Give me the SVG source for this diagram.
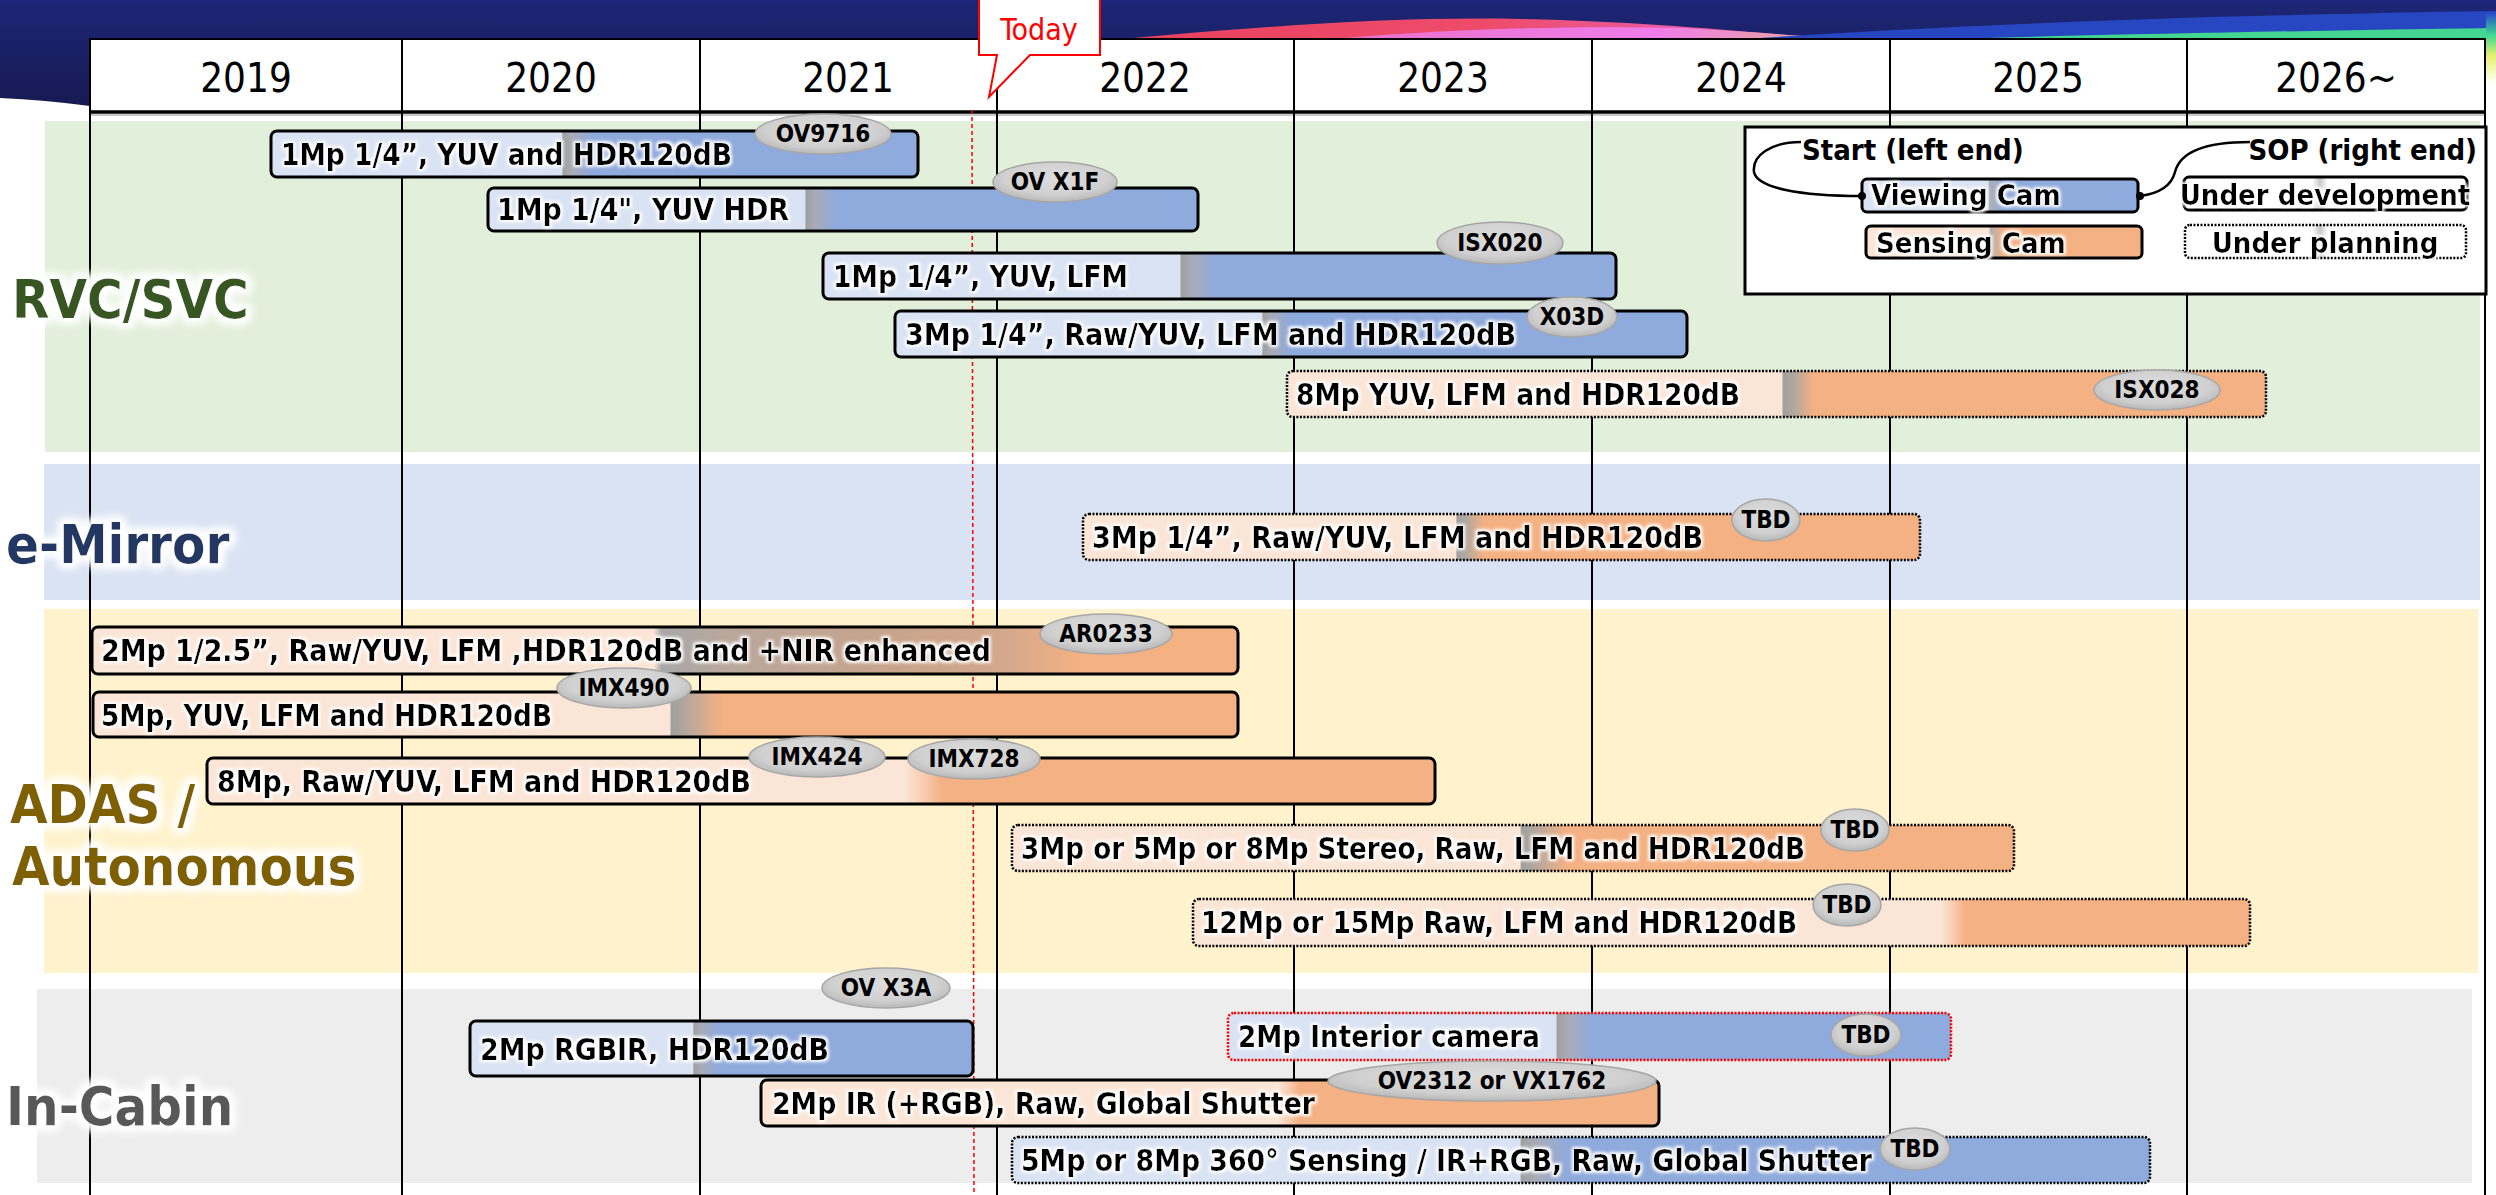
<svg xmlns="http://www.w3.org/2000/svg" width="2496" height="1195" viewBox="0 0 2496 1195">
<style>
.f{font-family:"DejaVu Sans Condensed","DejaVu Sans",sans-serif;font-stretch:condensed}
.yr{font-size:40px;text-anchor:middle;fill:#000}
.bt{font-size:30px;font-weight:bold;fill:#000;filter:url(#glow)}
.tg ellipse{fill:url(#eg);stroke:#A6A6A6;stroke-width:1.5}
.tg text{font-size:24px;font-weight:bold;text-anchor:middle;fill:#000}
.cat{font-size:54px;font-weight:bold;filter:url(#glow2)}
.lg{font-size:29px;font-weight:bold;fill:#000}
.bs{stroke:#000;stroke-width:3}
.bd{stroke:#000;stroke-width:2.5;stroke-dasharray:2 1.5}
.br{stroke:#F00;stroke-width:2.5;stroke-dasharray:2 1.5}
.grid{stroke:#000;stroke-width:2}
.con{fill:none;stroke:#000;stroke-width:2.5}
</style>
<defs>
<filter id="glow" x="-5%" y="-40%" width="110%" height="180%">
<feMorphology in="SourceAlpha" operator="dilate" radius="2" result="d"/>
<feGaussianBlur in="d" stdDeviation="1.5" result="b"/>
<feFlood flood-color="#fff"/>
<feComposite in2="b" operator="in" result="w"/>
<feMerge><feMergeNode in="w"/><feMergeNode in="SourceGraphic"/></feMerge>
</filter>
<filter id="glow2" x="-10%" y="-40%" width="120%" height="180%">
<feMorphology in="SourceAlpha" operator="dilate" radius="4" result="d"/>
<feGaussianBlur in="d" stdDeviation="5" result="b"/>
<feFlood flood-color="#fff"/>
<feComposite in2="b" operator="in" result="w"/>
<feMerge><feMergeNode in="w"/><feMergeNode in="w"/><feMergeNode in="SourceGraphic"/></feMerge>
</filter>
<radialGradient id="eg" cx="50%" cy="40%" r="60%">
<stop offset="0" stop-color="#DDDDDD"/><stop offset="0.7" stop-color="#D0D0D0"/><stop offset="1" stop-color="#B8B8B8"/>
</radialGradient>
<linearGradient id="navy" x1="0" y1="0" x2="0" y2="1">
<stop offset="0" stop-color="#1D2677"/><stop offset="1" stop-color="#171A52"/>
</linearGradient>
<linearGradient id="wave1" x1="0" y1="0" x2="1" y2="0">
<stop offset="0" stop-color="#E8405E"/><stop offset="0.5" stop-color="#EE4B6A"/><stop offset="1" stop-color="#E86BD8"/>
</linearGradient>
<linearGradient id="wave2" x1="0" y1="0" x2="1" y2="0">
<stop offset="0" stop-color="#E870C8"/><stop offset="0.6" stop-color="#F07DEA"/><stop offset="1" stop-color="#E0C070"/>
</linearGradient>
<linearGradient id="edge" x1="0" y1="0" x2="0" y2="1">
<stop offset="0" stop-color="#2A50C8"/><stop offset="0.3" stop-color="#3FD890"/><stop offset="0.6" stop-color="#E8F070"/><stop offset="1" stop-color="#FFFFFF"/>
</linearGradient>
<linearGradient id="gb1" gradientUnits="userSpaceOnUse" x1="562" x2="592"><stop offset="0" stop-color="#DAE3F3"/><stop offset="0.03" stop-color="#A0A0A0"/><stop offset="0.35" stop-color="#A8ACB8"/><stop offset="1" stop-color="#8FAADC"/></linearGradient>
<linearGradient id="gb2" gradientUnits="userSpaceOnUse" x1="805" x2="835"><stop offset="0" stop-color="#DAE3F3"/><stop offset="0.03" stop-color="#A0A0A0"/><stop offset="0.35" stop-color="#A8ACB8"/><stop offset="1" stop-color="#8FAADC"/></linearGradient>
<linearGradient id="gb3" gradientUnits="userSpaceOnUse" x1="1180" x2="1215"><stop offset="0" stop-color="#DAE3F3"/><stop offset="0.03" stop-color="#A0A0A0"/><stop offset="0.35" stop-color="#A8ACB8"/><stop offset="1" stop-color="#8FAADC"/></linearGradient>
<linearGradient id="gb4" gradientUnits="userSpaceOnUse" x1="1262" x2="1290"><stop offset="0" stop-color="#DAE3F3"/><stop offset="0.03" stop-color="#A0A0A0"/><stop offset="0.35" stop-color="#A8ACB8"/><stop offset="1" stop-color="#8FAADC"/></linearGradient>
<linearGradient id="go5" gradientUnits="userSpaceOnUse" x1="1782" x2="1814"><stop offset="0" stop-color="#FBE5D6"/><stop offset="0.03" stop-color="#A0A0A0"/><stop offset="0.35" stop-color="#B0A8A0"/><stop offset="1" stop-color="#F4B183"/></linearGradient>
<linearGradient id="go6" gradientUnits="userSpaceOnUse" x1="1456" x2="1484"><stop offset="0" stop-color="#FBE5D6"/><stop offset="0.03" stop-color="#A0A0A0"/><stop offset="0.35" stop-color="#B0A8A0"/><stop offset="1" stop-color="#F4B183"/></linearGradient>
<linearGradient id="go7" gradientUnits="userSpaceOnUse" x1="92" x2="1238"><stop offset="0" stop-color="#FBE5D6"/><stop offset="0.49" stop-color="#FBE5D6"/><stop offset="0.497" stop-color="#A8A8A8"/><stop offset="0.55" stop-color="#B8A79C"/><stop offset="0.70" stop-color="#C8A48C"/><stop offset="0.80" stop-color="#D4A88C"/><stop offset="0.86" stop-color="#F4B183"/><stop offset="1" stop-color="#F4B183"/></linearGradient>
<linearGradient id="go8" gradientUnits="userSpaceOnUse" x1="670" x2="722"><stop offset="0" stop-color="#FBE5D6"/><stop offset="0.02" stop-color="#A0A0A0"/><stop offset="0.35" stop-color="#B8A89C"/><stop offset="1" stop-color="#F4B183"/></linearGradient>
<linearGradient id="go9" gradientUnits="userSpaceOnUse" x1="905" x2="942"><stop offset="0" stop-color="#FBE5D6"/><stop offset="0.5" stop-color="#F8CDB0"/><stop offset="1" stop-color="#F4B183"/></linearGradient>
<linearGradient id="go10" gradientUnits="userSpaceOnUse" x1="1520" x2="1568"><stop offset="0" stop-color="#FBE5D6"/><stop offset="0.03" stop-color="#A0A0A0"/><stop offset="0.35" stop-color="#B8A89C"/><stop offset="1" stop-color="#F4B183"/></linearGradient>
<linearGradient id="go11" gradientUnits="userSpaceOnUse" x1="1941" x2="1965"><stop offset="0" stop-color="#FBE5D6"/><stop offset="0.5" stop-color="#F8CDB0"/><stop offset="1" stop-color="#F4B183"/></linearGradient>
<linearGradient id="gb13" gradientUnits="userSpaceOnUse" x1="693" x2="718"><stop offset="0" stop-color="#DAE3F3"/><stop offset="0.03" stop-color="#A0A0A0"/><stop offset="0.35" stop-color="#A8ACB8"/><stop offset="1" stop-color="#8FAADC"/></linearGradient>
<linearGradient id="gb14" gradientUnits="userSpaceOnUse" x1="1556" x2="1592"><stop offset="0" stop-color="#DAE3F3"/><stop offset="0.03" stop-color="#A0A0A0"/><stop offset="0.35" stop-color="#A8ACB8"/><stop offset="1" stop-color="#8FAADC"/></linearGradient>
<linearGradient id="go15" gradientUnits="userSpaceOnUse" x1="1278" x2="1300"><stop offset="0" stop-color="#FBE5D6"/><stop offset="0.5" stop-color="#F8CDB0"/><stop offset="1" stop-color="#F4B183"/></linearGradient>
<linearGradient id="gb16" gradientUnits="userSpaceOnUse" x1="1520" x2="1568"><stop offset="0" stop-color="#DAE3F3"/><stop offset="0.03" stop-color="#A0A0A0"/><stop offset="0.35" stop-color="#A8ACB8"/><stop offset="1" stop-color="#8FAADC"/></linearGradient>
<linearGradient id="glv" gradientUnits="userSpaceOnUse" x1="1988" x2="2002"><stop offset="0" stop-color="#DAE3F3"/><stop offset="0.1" stop-color="#B0B0B0"/><stop offset="1" stop-color="#8FAADC"/></linearGradient>
<linearGradient id="gls" gradientUnits="userSpaceOnUse" x1="1989" x2="2003"><stop offset="0" stop-color="#FBE5D6"/><stop offset="0.1" stop-color="#B0B0B0"/><stop offset="1" stop-color="#F4B183"/></linearGradient>
<linearGradient id="glw" gradientUnits="userSpaceOnUse" x1="2312" x2="2328"><stop offset="0" stop-color="#FFFFFF"/><stop offset="0.5" stop-color="#C8C8C8"/><stop offset="1" stop-color="#FFFFFF"/></linearGradient>
</defs>

<rect width="2496" height="1195" fill="#FFFFFF"/>

<g id="banner">
<path d="M0,0 H2496 V42 H90 V106 Q45,100 0,98 Z" fill="url(#navy)"/>
<path d="M1090,42 C1220,30 1380,16 1520,19 C1660,22 1760,34 1880,42 Z" fill="url(#wave1)"/>
<path d="M1300,42 C1420,30 1560,25 1680,28 C1760,32 1820,38 1900,42 Z" fill="url(#wave2)"/>
<path d="M1700,42 C1900,28 2150,16 2496,11 V42 Z" fill="#2646C2"/>
<path d="M1850,42 C2100,34 2300,31 2496,28 V42 Z" fill="#42D690"/>
<rect x="2486" y="14" width="10" height="70" fill="url(#edge)"/>
</g>

<g id="bands">
<rect x="45" y="121" width="2435" height="331" fill="#E2EFDA"/>
<rect x="44" y="464" width="2436" height="136" fill="#DAE3F3"/>
<rect x="44" y="609" width="2434" height="364" fill="#FFF2CC"/>
<rect x="37" y="989" width="2435" height="194" fill="#EDEDED"/>
</g>

<g id="table">
<rect x="90" y="39" width="2395" height="73" fill="#FFFFFF"/>
<line class="grid" x1="90" y1="39" x2="2485" y2="39" stroke-width="3"/>
<line x1="90" y1="112" x2="2485" y2="112" stroke="#000" stroke-width="3.5"/>
<line x1="90" y1="115" x2="2485" y2="115" stroke="#C8C8C8" stroke-width="2"/>
<line class="grid" x1="90" y1="38" x2="90" y2="1195"/>
<line class="grid" x1="402" y1="38" x2="402" y2="1195"/>
<line class="grid" x1="700" y1="38" x2="700" y2="1195"/>
<line class="grid" x1="997" y1="38" x2="997" y2="1195"/>
<line class="grid" x1="1294" y1="38" x2="1294" y2="1195"/>
<line class="grid" x1="1592" y1="38" x2="1592" y2="1195"/>
<line class="grid" x1="1890" y1="38" x2="1890" y2="1195"/>
<line class="grid" x1="2187" y1="38" x2="2187" y2="1195"/>
<line class="grid" x1="2485" y1="38" x2="2485" y2="1195" stroke-width="2.5"/>
<g class="f yr">
<text x="246" y="92">2019</text>
<text x="551" y="92">2020</text>
<text x="848" y="92">2021</text>
<text x="1145" y="92">2022</text>
<text x="1443" y="92">2023</text>
<text x="1741" y="92">2024</text>
<text x="2038" y="92">2025</text>
<text x="2336" y="92">2026~</text>
</g>
</g>

<g id="categories" class="f cat">
<text x="12" y="318" fill="#375623">RVC/SVC</text>
<text x="6" y="563" fill="#203864">e-Mirror</text>
<text x="10" y="823" fill="#7F6000">ADAS /</text>
<text x="12" y="885" fill="#7F6000">Autonomous</text>
<text x="6" y="1125" fill="#595959">In-Cabin</text>
</g>

<g id="today">
<line x1="972" y1="110" x2="974" y2="1195" stroke="#FF0000" stroke-width="1.5" stroke-dasharray="4 3"/>
<path d="M979,-2 H1100 V55 H1030 L989,97 L997,55 H979 Z" fill="#FFFFFF" stroke="#FF0000" stroke-width="2"/>
<text class="f" x="1039" y="40" font-size="30" text-anchor="middle" fill="#FF0000">Today</text>
</g>

<g id="nodes">
<g id="bar-rvc-1">
<rect x="271" y="131" width="647" height="46" rx="6" fill="url(#gb1)" class="bs"/>
<text class="f bt" x="281" y="165" textLength="451" lengthAdjust="spacingAndGlyphs">1Mp 1/4”, YUV and HDR120dB</text>
<g class="tg f"><ellipse cx="823" cy="134" rx="68" ry="20"/><text x="823" y="142">OV9716</text></g>
</g>
<g id="bar-rvc-2">
<rect x="488" y="188" width="710" height="43" rx="6" fill="url(#gb2)" class="bs"/>
<text class="f bt" x="497" y="220" textLength="292" lengthAdjust="spacingAndGlyphs">1Mp 1/4", YUV HDR</text>
<g class="tg f"><ellipse cx="1055" cy="182" rx="62" ry="20"/><text x="1055" y="190">OV X1F</text></g>
</g>
<g id="bar-rvc-3">
<rect x="823" y="253" width="793" height="46" rx="6" fill="url(#gb3)" class="bs"/>
<text class="f bt" x="833" y="287" textLength="295" lengthAdjust="spacingAndGlyphs">1Mp 1/4”, YUV, LFM</text>
<g class="tg f"><ellipse cx="1500" cy="243" rx="63" ry="21"/><text x="1500" y="251">ISX020</text></g>
</g>
<g id="bar-rvc-4">
<rect x="895" y="311" width="792" height="46" rx="6" fill="url(#gb4)" class="bs"/>
<text class="f bt" x="905" y="345" textLength="611" lengthAdjust="spacingAndGlyphs">3Mp 1/4”, Raw/YUV, LFM and HDR120dB</text>
<g class="tg f"><ellipse cx="1572" cy="317" rx="45" ry="20"/><text x="1572" y="325">X03D</text></g>
</g>
<g id="bar-rvc-5">
<rect x="1287" y="371" width="979" height="46" rx="6" fill="url(#go5)" class="bd"/>
<text class="f bt" x="1296" y="405" textLength="444" lengthAdjust="spacingAndGlyphs">8Mp YUV, LFM and HDR120dB</text>
<g class="tg f"><ellipse cx="2157" cy="390" rx="63" ry="20"/><text x="2157" y="398">ISX028</text></g>
</g>
<g id="bar-emirror-1">
<rect x="1083" y="514" width="837" height="46" rx="6" fill="url(#go6)" class="bd"/>
<text class="f bt" x="1092" y="548" textLength="611" lengthAdjust="spacingAndGlyphs">3Mp 1/4”, Raw/YUV, LFM and HDR120dB</text>
<g class="tg f"><ellipse cx="1766" cy="520" rx="34" ry="21"/><text x="1766" y="528">TBD</text></g>
</g>
<g id="bar-adas-1">
<rect x="92" y="627" width="1146" height="47" rx="6" fill="url(#go7)" class="bs"/>
<text class="f bt" x="101" y="661" textLength="890" lengthAdjust="spacingAndGlyphs">2Mp 1/2.5”, Raw/YUV, LFM ,HDR120dB and +NIR enhanced</text>
<g class="tg f"><ellipse cx="1106" cy="634" rx="66" ry="20"/><text x="1106" y="642">AR0233</text></g>
</g>
<g id="bar-adas-2">
<rect x="93" y="692" width="1145" height="45" rx="6" fill="url(#go8)" class="bs"/>
<text class="f bt" x="101" y="726" textLength="451" lengthAdjust="spacingAndGlyphs">5Mp, YUV, LFM and HDR120dB</text>
<g class="tg f"><ellipse cx="624" cy="688" rx="67" ry="20"/><text x="624" y="696">IMX490</text></g>
</g>
<g id="bar-adas-3">
<rect x="207" y="758" width="1228" height="46" rx="6" fill="url(#go9)" class="bs"/>
<text class="f bt" x="217" y="792" textLength="534" lengthAdjust="spacingAndGlyphs">8Mp, Raw/YUV, LFM and HDR120dB</text>
<g class="tg f"><ellipse cx="817" cy="757" rx="68" ry="20"/><text x="817" y="765">IMX424</text></g>
<g class="tg f"><ellipse cx="974" cy="759" rx="66" ry="20"/><text x="974" y="767">IMX728</text></g>
</g>
<g id="bar-adas-4">
<rect x="1012" y="825" width="1002" height="46" rx="6" fill="url(#go10)" class="bd"/>
<text class="f bt" x="1021" y="859" textLength="784" lengthAdjust="spacingAndGlyphs">3Mp or 5Mp or 8Mp Stereo, Raw, LFM and HDR120dB</text>
<g class="tg f"><ellipse cx="1855" cy="830" rx="34" ry="21"/><text x="1855" y="838">TBD</text></g>
</g>
<g id="bar-adas-5">
<rect x="1193" y="899" width="1057" height="47" rx="6" fill="url(#go11)" class="bd"/>
<text class="f bt" x="1201" y="933" textLength="596" lengthAdjust="spacingAndGlyphs">12Mp or 15Mp Raw, LFM and HDR120dB</text>
<g class="tg f"><ellipse cx="1847" cy="905" rx="34" ry="21"/><text x="1847" y="913">TBD</text></g>
</g>
<g id="tag-ovx3a" class="tg f"><ellipse cx="886" cy="988" rx="64" ry="20"/><text x="886" y="996">OV X3A</text></g>
<g id="bar-cabin-1">
<rect x="470" y="1021" width="503" height="55" rx="6" fill="url(#gb13)" class="bs"/>
<text class="f bt" x="480" y="1060" textLength="349" lengthAdjust="spacingAndGlyphs">2Mp RGBIR, HDR120dB</text>
</g>
<g id="bar-cabin-2">
<rect x="1228" y="1013" width="723" height="47" rx="6" fill="url(#gb14)" class="br"/>
<text class="f bt" x="1238" y="1047" textLength="302" lengthAdjust="spacingAndGlyphs">2Mp Interior camera</text>
<g class="tg f"><ellipse cx="1866" cy="1035" rx="35" ry="21"/><text x="1866" y="1043">TBD</text></g>
</g>
<g id="bar-cabin-3">
<rect x="761" y="1080" width="898" height="46" rx="6" fill="url(#go15)" class="bs"/>
<text class="f bt" x="772" y="1114" textLength="543" lengthAdjust="spacingAndGlyphs">2Mp IR (+RGB), Raw, Global Shutter</text>
<g class="tg f"><ellipse cx="1492" cy="1081" rx="164" ry="20"/><text x="1492" y="1089">OV2312 or VX1762</text></g>
</g>
<g id="bar-cabin-4">
<rect x="1012" y="1137" width="1138" height="46" rx="6" fill="url(#gb16)" class="bd"/>
<text class="f bt" x="1021" y="1171" textLength="851" lengthAdjust="spacingAndGlyphs">5Mp or 8Mp 360° Sensing / IR+RGB, Raw, Global Shutter</text>
<g class="tg f"><ellipse cx="1915" cy="1149" rx="35" ry="21"/><text x="1915" y="1157">TBD</text></g>
</g>
</g>

<g id="legend">
<rect x="1745" y="127" width="741" height="167" fill="#FFFFFF" stroke="#000" stroke-width="3"/>
<text class="f lg" x="1802" y="160">Start (left end)</text>
<text class="f lg" x="2477" y="160" text-anchor="end">SOP (right end)</text>
<g id="legend-viewing">
<rect x="1862" y="179" width="276" height="33" rx="5" fill="url(#glv)" class="bs"/>
<text class="f lg" x="1871" y="205" filter="url(#glow)">Viewing Cam</text>
</g>
<g id="legend-sensing">
<rect x="1866" y="226" width="276" height="32" rx="5" fill="url(#gls)" class="bs"/>
<text class="f lg" x="1876" y="253" filter="url(#glow)">Sensing Cam</text>
</g>
<g id="legend-dev">
<rect x="2184" y="177" width="283" height="33" rx="5" fill="url(#glw)" class="bs"/>
<text class="f lg" x="2325" y="205" text-anchor="middle" filter="url(#glow)">Under development</text>
</g>
<g id="legend-plan">
<rect x="2185" y="225" width="281" height="33" rx="5" fill="url(#glw)" class="bd"/>
<text class="f lg" x="2325" y="253" text-anchor="middle" filter="url(#glow)">Under planning</text>
</g>
</g>

<g id="connectors">
<path class="con" d="M1801,142 C1770,142 1752,156 1754,172 C1757,188 1800,196 1862,196"/>
<circle cx="1862" cy="196" r="4" fill="#000"/>
<path class="con" d="M2250,142 C2205,142 2180,152 2175,172 C2171,188 2155,194 2140,196"/>
<circle cx="2140" cy="196" r="4" fill="#000"/>
</g>
</svg>
